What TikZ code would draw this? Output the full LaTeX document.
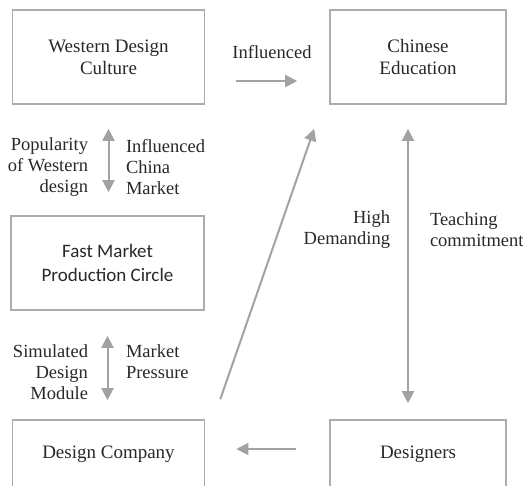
\documentclass[tikz,border=0pt]{standalone}
\usepackage{fontspec}
\setmainfont{Liberation Serif}
\newfontfamily\timesface{Liberation Serif}
\newfontfamily\calfont{Carlito}
\usepackage{tikz}
\usetikzlibrary{arrows.meta}
\definecolor{boxgray}{RGB}{172,172,172}
\definecolor{arrowgray}{RGB}{162,162,162}
\definecolor{textgray}{RGB}{40,40,40}

\begin{document}
\begin{tikzpicture}[x=1pt,y=-1pt,>={Triangle[length=12pt,width=12pt]},line width=2pt]
      \tikzstyle{main node} = [draw=boxgray, line width=1.6pt, rectangle, minimum width=192pt, minimum height=94pt,
         align=center, text=textgray, font=\timesface\fontsize{19}{22}\selectfont, inner sep=0pt]
      \tikzstyle{line} = [draw=arrowgray, line width=2pt, ->]
      \tikzstyle{both line} = [line, <->]
      \tikzstyle{label text} = [text=textgray, font=\timesface\fontsize{18.5}{21}\selectfont, inner sep=0pt]
      \useasboundingbox (0,0) rectangle (523,486);
      \clip (0,0) rectangle (523,486);
      %nodes
      \node[main node]                                      (western)    at (108.5,57) {Western Design\\Culture};
      \node[main node, minimum width=176pt, node distance=309.5pt] (chinese) [right of=western] {Chinese\\Education};
      \node[main node, minimum width=193pt, font=\calfont\fontsize{19}{24}\selectfont, node distance=206pt]
                                                            (fastmarket) [below of=western, xshift=-1pt] {Fast Market\\Production Circle};
      \node[main node, minimum height=68pt, node distance=191pt] (company) [below of=fastmarket, xshift=1pt] {Design Company};
      \node[main node, minimum width=176pt, minimum height=68pt, node distance=309.5pt] (designers) [right of=company] {Designers};

      %labels
      \node[label text]                            (influenced)  at (272,52)  {Influenced};
      \node[label text, anchor=east, align=right]  (popularity)  at (89,167)  {Popularity\\of Western\\design};
      \node[label text, anchor=west, align=left]   (chinamarket) at (125,167) {Influenced\\China\\Market};
      \node[label text, anchor=east, align=right]  (simulated)   at (89,372)  {Simulated\\Design\\Module};
      \node[label text, anchor=west, align=left]   (pressure)    at (125,362) {Market\\Pressure};
      \node[label text, anchor=east, align=right]  (demanding)   at (391,230) {High\\Demanding};
      \node[label text, anchor=west, align=left]   (teaching)    at (429,230) {Teaching\\commitment};

      %lines
      \draw[line, shorten <=30.5pt, shorten >=32pt] ([yshift=-24pt]western.east) -- ([yshift=-24pt]western.east -| chinese.west);
      \draw[both line, shorten <=24pt, shorten >=23pt] (western.south) -- (western.south |- fastmarket.north);
      \draw[both line, shorten <=25pt, shorten >=19pt] (fastmarket.south) -- (fastmarket.south |- company.north);
      \draw[line, shorten <=33pt, shorten >=31pt] ([yshift=5pt]designers.west) -- ([yshift=5pt]designers.west -| company.east);
      \draw[line] ([xshift=15pt,yshift=20pt]company.north east) -- ([xshift=-15pt,yshift=-24pt]chinese.south west);
      \draw[both line, shorten <=24pt, shorten >=16pt] ([xshift=-10pt]chinese.south) -- ([xshift=-10pt]designers.north);
    \end{tikzpicture}
\end{document}
